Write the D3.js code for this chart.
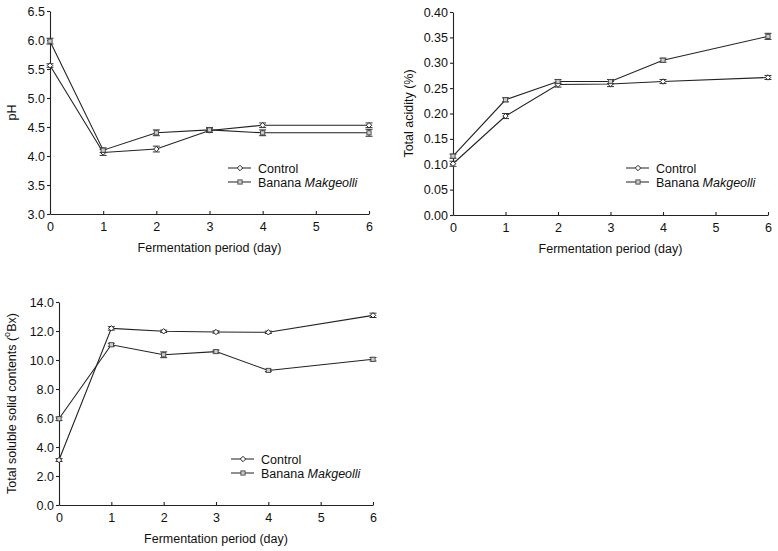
<!DOCTYPE html>
<html><head><meta charset="utf-8">
<script src="https://cdn.jsdelivr.net/npm/d3@7"></script>
<style>
body{margin:0;background:#fff;}
svg{display:block;font-family:"Liberation Sans",Arial,sans-serif;}
</style></head>
<body>
<svg id="c" width="778" height="551"></svg>
<script>
const days = [0, 1, 2, 3, 4, 6];
const xTicks = [0, 1, 2, 3, 4, 5, 6];
const seriesNames = ["Control", "Banana "];

// pH
const phControl = [5.56, 4.06, 4.12, 4.44, 4.53, 4.53];
const phControlErr = [0.03, 0.05, 0.05, 0.03, 0.04, 0.04];
const phBanana = [5.98, 4.10, 4.40, 4.45, 4.40, 4.40];
const phBananaErr = [0.05, 0.04, 0.05, 0.04, 0.05, 0.06];
const phTicks = [3.0, 3.5, 4.0, 4.5, 5.0, 5.5, 6.0, 6.5];

// Total acidity
const taControl = [0.101, 0.195, 0.257, 0.258, 0.263, 0.271];
const taControlErr = [0.005, 0.005, 0.005, 0.005, 0.004, 0.004];
const taBanana = [0.116, 0.227, 0.263, 0.263, 0.305, 0.352];
const taBananaErr = [0.004, 0.004, 0.004, 0.004, 0.004, 0.006];
const taTicks = [0.00, 0.05, 0.10, 0.15, 0.20, 0.25, 0.30, 0.35, 0.40];

// Total soluble solid contents
const tssControl = [3.1, 12.18, 11.98, 11.93, 11.91, 13.08];
const tssControlErr = [0.1, 0.12, 0.08, 0.08, 0.08, 0.15];
const tssBanana = [5.95, 11.05, 10.36, 10.58, 9.28, 10.05];
const tssBananaErr = [0.12, 0.1, 0.2, 0.1, 0.08, 0.12];
const tssTicks = [0.0, 2.0, 4.0, 6.0, 8.0, 10.0, 12.0, 14.0];

const svg = d3.select("#c");
const FS = 12.5;

function panel(cfg) {
  const g = svg.append("g");
  const x = d3.scaleLinear().domain([0, 6]).range([cfg.x0, cfg.x1]);
  const y = d3.scaleLinear().domain(cfg.domain).range([cfg.yb, cfg.yt]);

  const ya = d3.axisLeft(y).tickValues(cfg.ticks).tickFormat(d3.format(cfg.fmt)).tickSize(3).tickSizeOuter(0).tickPadding(2);
  const gy = g.append("g").attr("transform", `translate(${cfg.x0},0)`).call(ya);
  const xa = d3.axisBottom(x).tickValues(xTicks).tickFormat(d3.format("d")).tickSize(-3).tickSizeOuter(0).tickPadding(8);
  const gx = g.append("g").attr("transform", `translate(0,${cfg.yb})`).call(xa);
  [gx, gy].forEach(a => {
    a.selectAll("path,line").attr("stroke", "#222").attr("stroke-width", 1.1);
    a.selectAll("text").attr("fill", "#111").attr("font-size", FS).attr("font-family", "Liberation Sans, Arial, sans-serif");
  });
  gx.selectAll("text").attr("dy", "0.71em");

  g.append("text").attr("x", (cfg.x0 + cfg.x1) / 2).attr("y", cfg.yb + 38)
    .attr("text-anchor", "middle").attr("font-size", FS).attr("fill", "#111")
    .text("Fermentation period (day)");

  const yt = g.append("text").attr("transform", `translate(${cfg.ylx},${(cfg.yt + cfg.yb) / 2}) rotate(-90)`)
    .attr("text-anchor", "middle").attr("font-size", FS).attr("fill", "#111");
  if (cfg.ylabelParts) {
    yt.append("tspan").text(cfg.ylabelParts[0]);
    yt.append("tspan").attr("font-size", 9).attr("dy", -6).text("o");
    yt.append("tspan").attr("dy", 6).text(cfg.ylabelParts[1]);
  } else {
    yt.text(cfg.ylabel);
  }

  const line = d3.line().x((d, i) => x(days[i])).y(d => y(d));
  const series = [
    {vals: cfg.ctrl, err: cfg.ctrlErr, shape: "diamond"},
    {vals: cfg.ban, err: cfg.banErr, shape: "square"}
  ];
  series.forEach(s => {
    g.append("path").datum(s.vals).attr("d", line).attr("fill", "none")
      .attr("stroke", "#222").attr("stroke-width", 1.1);
  });
  series.forEach(s => {
    s.vals.forEach((v, i) => {
      const cx = x(days[i]);
      const lo = y(v - s.err[i]), hi = y(v + s.err[i]);
      g.append("line").attr("x1", cx).attr("x2", cx).attr("y1", lo).attr("y2", hi).attr("stroke", "#333").attr("stroke-width", 1);
      [lo, hi].forEach(yy => g.append("line").attr("x1", cx - 3.5).attr("x2", cx + 3.5).attr("y1", yy).attr("y2", yy).attr("stroke", "#333").attr("stroke-width", 1));
      drawMarker(g, s.shape, cx, y(v));
    });
  });

  // legend
  seriesNames.forEach((n, i) => {
    const ly = cfg.legY + i * 14;
    g.append("line").attr("x1", cfg.legX).attr("x2", cfg.legX + 23).attr("y1", ly).attr("y2", ly)
      .attr("stroke", "#333").attr("stroke-width", 1.1);
    drawMarker(g, i === 0 ? "diamond" : "square", cfg.legX + 12, ly);
    const t = g.append("text").attr("x", cfg.legX + 30).attr("y", ly + 4.5).attr("font-size", FS).attr("fill", "#111");
    t.append("tspan").text(n);
    if (i === 1) t.append("tspan").attr("font-style", "italic").text("Makgeolli");
  });
}

function drawMarker(g, shape, cx, cy) {
  if (shape === "diamond") {
    const r = 2.7;
    g.append("path").attr("d", `M${cx},${cy - r}L${cx + r},${cy}L${cx},${cy + r}L${cx - r},${cy}Z`)
      .attr("fill", "#fff").attr("stroke", "#222").attr("stroke-width", 1);
  } else {
    const r = 2.1;
    g.append("rect").attr("x", cx - r).attr("y", cy - r).attr("width", 2 * r).attr("height", 2 * r)
      .attr("fill", "#ccc").attr("stroke", "#444").attr("stroke-width", 0.9);
  }
}

panel({x0: 50, x1: 369, yt: 11, yb: 214, domain: [3.0, 6.5], ticks: phTicks, fmt: ".1f",
  ylabel: "pH", ylx: 16, ctrl: phControl, ctrlErr: phControlErr, ban: phBanana, banErr: phBananaErr,
  legX: 228, legY: 168});
panel({x0: 453, x1: 768, yt: 12, yb: 215, domain: [0, 0.40], ticks: taTicks, fmt: ".2f",
  ylabel: "Total acidity (%)", ylx: 413, ctrl: taControl, ctrlErr: taControlErr, ban: taBanana, banErr: taBananaErr,
  legX: 626, legY: 168});
panel({x0: 59, x1: 373, yt: 302, yb: 505, domain: [0, 14], ticks: tssTicks, fmt: ".1f",
  ylabelParts: ["Total soluble solid contents  (", "Bx)"], ylx: 16,
  ctrl: tssControl, ctrlErr: tssControlErr, ban: tssBanana, banErr: tssBananaErr,
  legX: 231, legY: 459});
</script>
</body></html>
